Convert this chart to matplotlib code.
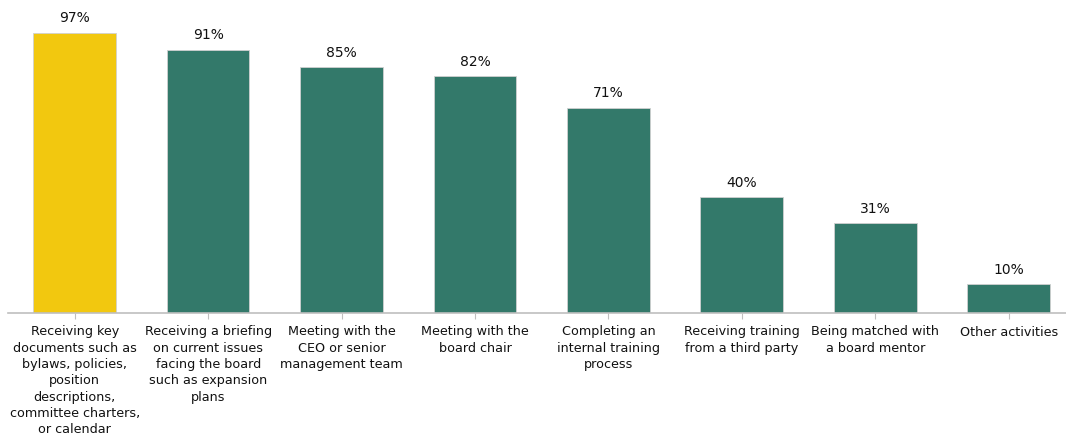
import numpy as np
import matplotlib.pyplot as plt

# Onboarding activities and share of respondents
categories = [
    "Receiving key\ndocuments such as\nbylaws, policies,\nposition\ndescriptions,\ncommittee charters,\nor calendar",
    "Receiving a briefing\non current issues\nfacing the board\nsuch as expansion\nplans",
    "Meeting with the\nCEO or senior\nmanagement team",
    "Meeting with the\nboard chair",
    "Completing an\ninternal training\nprocess",
    "Receiving training\nfrom a third party",
    "Being matched with\na board mentor",
    "Other activities",
]
values = [97, 91, 85, 82, 71, 40, 31, 10]

yellow = "#F2C80F"
green = "#33796A"
colors = [yellow] + [green] * (len(values) - 1)

fig = plt.figure(figsize=(10.66, 4.38), dpi=100)
ax = fig.add_axes([8 / 1066, 1 - 313 / 438, 1 - 8 / 1066, (313 - 24) / 438])

x = np.arange(len(values))
ax.bar(x, values, width=0.62, color=colors, edgecolor="#d0d0d0", linewidth=0.6)

for xi, v in zip(x, values):
    ax.text(xi, v + 2.6, f"{v}%", ha="center", va="bottom", fontsize=10,
            color="#111111")

ax.set_xlim(-0.5, 7.43)
ax.set_ylim(0, 100)
ax.set_xticks(x)
ax.set_xticklabels(categories, fontsize=9.2, linespacing=1.33, color="#111111")
ax.tick_params(axis="x", length=4, color="#bfbfbf", pad=5)
ax.set_yticks([])
for side in ("top", "right", "left"):
    ax.spines[side].set_visible(False)
ax.spines["bottom"].set_color("#bfbfbf")
ax.spines["bottom"].set_linewidth(1.2)

fig.savefig("out.png", dpi=100)
